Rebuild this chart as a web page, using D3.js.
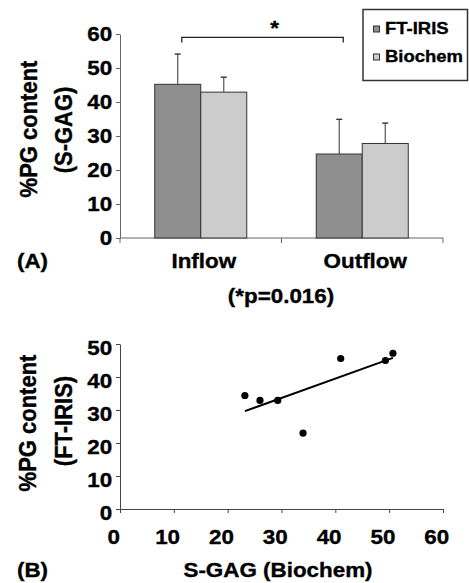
<!DOCTYPE html>
<html>
<head>
<meta charset="utf-8">
<script src="https://cdn.jsdelivr.net/npm/d3@7"></script>
<style>
  body { margin: 0; background: #fff; }
  svg text { font-family: "Liberation Sans", Arial, sans-serif; font-weight: bold; fill: #000; stroke: #000; stroke-width: 0.35px; }
</style>
</head>
<body>
<svg></svg>
<script>
// panel A data
var categories = ["Inflow", "Outflow"];
var seriesNames = ["FT-IRIS", "Biochem"];
var ftirisMean = [45.2, 24.7];
var ftirisSD = [8.9, 10.2];
var biochemMean = [42.9, 27.8];
var biochemSD = [4.4, 6.0];
var yTicksA = [0, 10, 20, 30, 40, 50, 60];

// panel B data
var sgagBiochem = [23.2, 26.0, 29.3, 34.0, 41.0, 49.3, 50.7];
var pgFtiris = [34.4, 32.9, 32.9, 23.0, 45.6, 45.0, 47.2];
var xTicksB = [0, 10, 20, 30, 40, 50, 60];
var yTicksB = [0, 10, 20, 30, 40, 50];

var W = 469, H = 583, SX = 1.12;
var colors = {"FT-IRIS": "#8f8f8f", "Biochem": "#cccccc"};

var svg = d3.select("svg").attr("width", W).attr("height", H);

// text is slightly wider than tall in the original picture
label = (g, x, y, txt, size, anchor, rot) => {
  return g.append("text")
    .attr("transform", "translate(" + x + "," + y + ") scale(" + SX + ",1)" + (rot ? " rotate(-90)" : ""))
    .attr("text-anchor", anchor || "middle")
    .style("font-size", size + "px")
    .text(txt);
};

stretchTicks = axisG => {
  axisG.selectAll(".tick text")
    .attr("transform", "scale(" + SX + ",1)")
    .attr("fill", "#000");
};

// ---------- panel A ----------
var rowsA = categories.map((c, i) => ({
  cat: c,
  vals: [
    {s: "FT-IRIS", m: ftirisMean[i], sd: ftirisSD[i]},
    {s: "Biochem", m: biochemMean[i], sd: biochemSD[i]}
  ]
}));

var xA = d3.scaleBand().domain(categories).range([120, 443]);
var xSub = d3.scaleBand().domain(seriesNames).range([0, xA.bandwidth()]).paddingOuter(0.755);
var yA = d3.scaleLinear().domain([0, 60]).range([238, 34]);

var gA = svg.append("g");

var yAxA = gA.append("g")
  .attr("transform", "translate(120,0)")
  .call(d3.axisLeft(yA).tickValues(yTicksA).tickSize(4).tickPadding(3).tickSizeOuter(0));
yAxA.selectAll("text").style("font-size", "20px");
yAxA.selectAll("line, path").attr("stroke", "#666");
stretchTicks(yAxA);

// x axis baseline with ticks at band edges
gA.append("line").attr("x1", 120).attr("x2", 443).attr("y1", yA(0)).attr("y2", yA(0)).attr("stroke", "#666");
var edges = categories.map(c => xA(c)).concat([xA.range()[1]]);
gA.selectAll(".edge").data(edges).enter().append("line")
  .attr("x1", d => d).attr("x2", d => d)
  .attr("y1", yA(0)).attr("y2", yA(0) + 5)
  .attr("stroke", "#666");

var grp = gA.selectAll(".grp").data(rowsA).enter().append("g")
  .attr("transform", d => "translate(" + xA(d.cat) + ",0)");

var bar = grp.selectAll(".bar").data(d => d.vals).enter().append("g");

// error bars first (up only)
bar.append("line")
  .attr("x1", d => xSub(d.s) + xSub.bandwidth() / 2)
  .attr("x2", d => xSub(d.s) + xSub.bandwidth() / 2)
  .attr("y1", d => yA(d.m))
  .attr("y2", d => yA(d.m + d.sd))
  .attr("stroke", "#555").attr("stroke-width", 1.2);
bar.append("line")
  .attr("x1", d => xSub(d.s) + xSub.bandwidth() / 2 - 3)
  .attr("x2", d => xSub(d.s) + xSub.bandwidth() / 2 + 3)
  .attr("y1", d => yA(d.m + d.sd))
  .attr("y2", d => yA(d.m + d.sd))
  .attr("stroke", "#333").attr("stroke-width", 1.4);

bar.append("rect")
  .attr("x", d => xSub(d.s))
  .attr("y", d => yA(d.m))
  .attr("width", xSub.bandwidth())
  .attr("height", d => yA(0) - yA(d.m))
  .attr("fill", d => colors[d.s])
  .attr("stroke", "#333").attr("stroke-width", 1);

// significance bracket between FT-IRIS bars
var bx1 = xA("Inflow") + xSub("FT-IRIS") + xSub.bandwidth() / 2 + 4;
var bx2 = xA("Outflow") + xSub("FT-IRIS") + xSub.bandwidth() / 2 + 4;
gA.append("path")
  .attr("d", "M" + bx1 + "," + yA(57.5) + "V" + yA(59) + "H" + bx2 + "V" + yA(57.5))
  .attr("fill", "none").attr("stroke", "#222").attr("stroke-width", 1.3);
label(gA, (bx1 + bx2) / 2 + 12, 35, "*", 20);

categories.forEach(c => {
  label(gA, xA(c) + xA.bandwidth() / 2 + 3, 268, c, 20);
});
label(gA, 281, 303, "(*p=0.016)", 20);
label(gA, 17, 268, "(A)", 20, "start");
label(gA, 37, 129, "%PG content", 22, "middle", true);
label(gA, 72, 130, "(S-GAG)", 22, "middle", true);

// legend
var lg = svg.append("g");
lg.append("rect").attr("x", 363).attr("y", 9.5).attr("width", 104.5).attr("height", 71)
  .attr("fill", "#fff").attr("stroke", "#333").attr("stroke-width", 1.5);
seriesNames.forEach((s, i) => {
  var cy = 29 + i * 28;
  lg.append("rect").attr("x", 373.5).attr("y", cy - 3).attr("width", 6).attr("height", 6)
    .attr("fill", colors[s]).attr("stroke", "#333").attr("stroke-width", 1);
  label(lg, 385, cy + 5, s, 16.5, "start");
});

// ---------- panel B ----------
var xB = d3.scaleLinear().domain([0, 60]).range([120, 443]);
var yB = d3.scaleLinear().domain([0, 50]).range([509, 344]);
var gB = svg.append("g");

var xAxB = gB.append("g")
  .attr("transform", "translate(0," + yB(0) + ")")
  .call(d3.axisBottom(xB).tickValues(xTicksB).tickSize(4).tickPadding(17).tickSizeOuter(0));
xAxB.selectAll("text").style("font-size", "20px").attr("x", -6);
xAxB.selectAll("line, path").attr("stroke", "#444");
stretchTicks(xAxB);

var yAxB = gB.append("g")
  .attr("transform", "translate(" + xB(0) + ",0)")
  .call(d3.axisLeft(yB).tickValues(yTicksB).tickSize(4).tickPadding(3).tickSizeOuter(0));
yAxB.selectAll("text").style("font-size", "20px").attr("dy", "0.5em");
yAxB.selectAll("line, path").attr("stroke", "#444");
stretchTicks(yAxB);

// least squares trend line
var pts = sgagBiochem.map((x, i) => ({x: x, y: pgFtiris[i]}));
var mx = d3.mean(pts, d => d.x), my = d3.mean(pts, d => d.y);
var slope = d3.sum(pts, d => (d.x - mx) * (d.y - my)) / d3.sum(pts, d => (d.x - mx) * (d.x - mx));
var ext = d3.extent(pts, d => d.x);
var fit = ext.map(x => ({x: x, y: my + slope * (x - mx)}));
gB.append("path")
  .attr("d", d3.line().x(d => xB(d.x)).y(d => yB(d.y))(fit))
  .attr("fill", "none").attr("stroke", "#000").attr("stroke-width", 2);

gB.selectAll(".dot").data(pts).enter().append("circle")
  .attr("cx", d => xB(d.x)).attr("cy", d => yB(d.y)).attr("r", 3.6)
  .attr("fill", "#000");

label(gB, 17, 577, "(B)", 20, "start");
label(gB, 278, 577, "S-GAG (Biochem)", 20);
label(gB, 36, 423, "%PG content", 22, "middle", true);
label(gB, 72, 421, "(FT-IRIS)", 22, "middle", true);
</script>
</body>
</html>
